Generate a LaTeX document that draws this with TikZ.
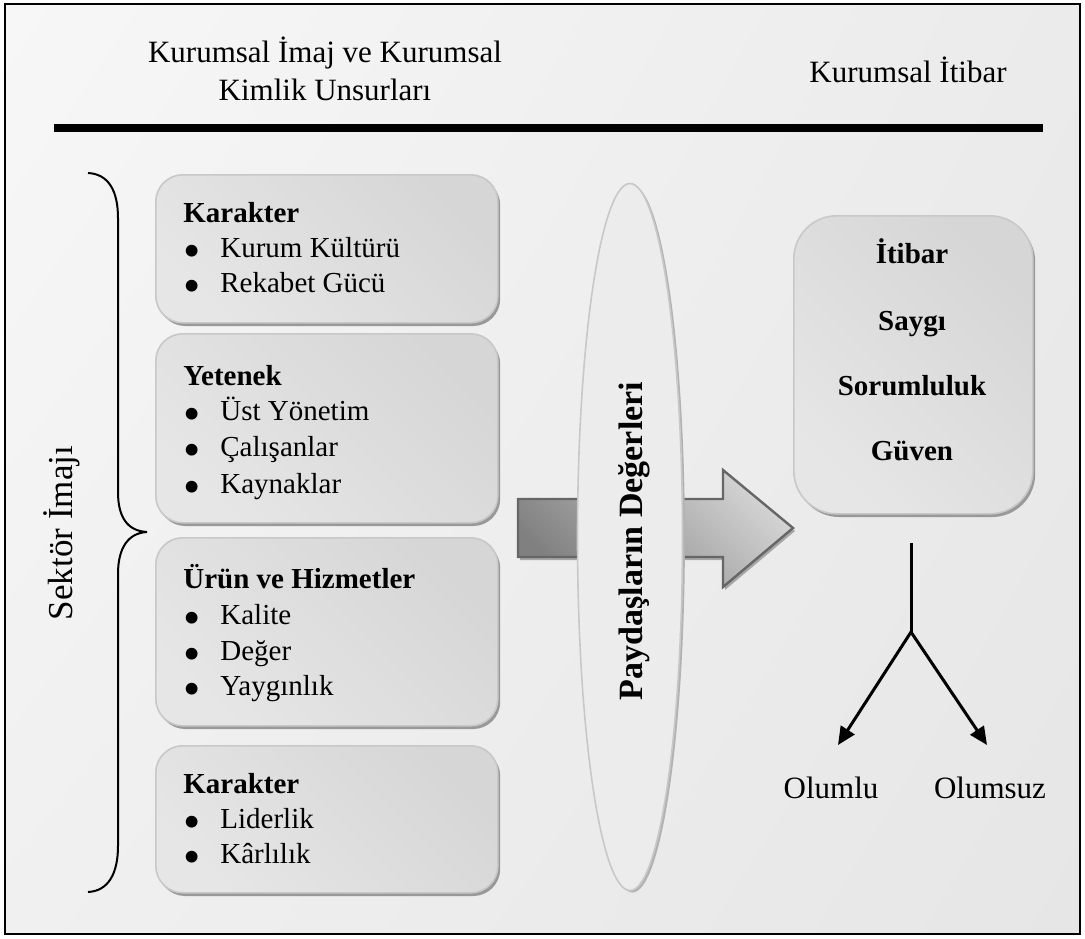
\documentclass[tikz,border=0pt]{standalone}
\usepackage{fontspec}
\setmainfont{Liberation Serif}
\usetikzlibrary{shapes.geometric,shadows,shadings,arrows.meta}

\definecolor{bgA}{HTML}{F7F7F7}
\definecolor{bgB}{HTML}{EBEBEB}
\definecolor{bgC}{HTML}{F0F0F0}
\definecolor{bgD}{HTML}{E6E6E6}
\definecolor{cardDark}{HTML}{D6D6D6}
\definecolor{cardMid}{HTML}{FAFAFA}
\definecolor{cardLow}{HTML}{E6E6E6}
\definecolor{cardEdge}{HTML}{C8C8C8}
\definecolor{ovalSide}{HTML}{ECECEC}
\definecolor{ovalMid}{HTML}{FCFCFC}
\definecolor{arrowLight}{HTML}{D4D4D4}
\definecolor{arrowDark}{HTML}{808080}
\definecolor{arrowEdge}{HTML}{666666}

\tikzset{
  card/.style={rounded corners=13.5pt, draw=cardEdge, line width=0.8pt,
    top color=cardDark, middle color=cardMid, bottom color=cardLow,
    shading angle=-45, inner sep=0pt,
    drop shadow={shadow xshift=1.2pt, shadow yshift=-1.6pt, fill=black!40, opacity=1}},
  head/.style={anchor=base west, inner sep=0pt, font=\bfseries\fontsize{14.5pt}{17pt}\selectfont},
  item/.style={anchor=base west, inner sep=0pt, font=\fontsize{14.5pt}{17pt}\selectfont},
  value/.style={anchor=base, inner sep=0pt, font=\bfseries\fontsize{14.5pt}{17pt}\selectfont},
  title/.style={anchor=base, inner sep=0pt, font=\fontsize{15.5pt}{18pt}\selectfont},
  outcome/.style={anchor=base, inner sep=0pt, font=\fontsize{15.5pt}{18pt}\selectfont},
  branch/.style={line width=1.5pt, -{Triangle[length=9pt,width=8pt]}},
}
% list entry: enlarged bullet set on the x-height, then the entry text
\newcommand{\bul}[1]{\makebox[18.5pt][l]{\smash{\raisebox{-5.2pt}{\scalebox{1.7}{•}}}}#1}

\begin{document}
\begin{tikzpicture}[x=0.5pt, y=-0.5pt]
\useasboundingbox (0,0) rectangle (1085,938);

% page background and frame
\shade[upper left=bgA, upper right=bgB, lower left=bgC, lower right=bgD]
  (5,4) rectangle (1080,934);
\draw[line width=1.1pt] (5,4) rectangle (1080,934);

% headings
\node[title] (tl1) at (325,62) {Kurumsal İmaj ve Kurumsal};
\node[title] (tl2) at (325,100) {Kimlik Unsurları};
\node[title] (tr) at (908,82) {Kurumsal İtibar};
\coordinate (ruleL) at (54,128);
\coordinate (ruleR) at (1043,128);
\draw[line width=4pt] (ruleL) -- (ruleR);

% brace and side label
\draw[line width=1pt]
  (88,173) .. controls (108,174) and (118,190) .. (118,218) -- (118,492)
  .. controls (118,518) and (128,531) .. (147,532)
  .. controls (128,533) and (118,548) .. (118,574) -- (118,846)
  .. controls (118,874) and (108,891) .. (88,892);
\node[rotate=90, anchor=base, inner sep=0pt, font=\fontsize{17.5pt}{20pt}\selectfont]
  (sector) at (72,533) {Sektör İmajı};

% element boxes
\node[card, anchor=north west, minimum width=171pt, minimum height=74pt] (b1) at (155,174) {};
\node[card, anchor=north west, minimum width=171pt, minimum height=94.5pt] (b2) at (155,333) {};
\node[card, anchor=north west, minimum width=171pt, minimum height=94pt] (b3) at (155,537) {};
\node[card, anchor=north west, minimum width=171pt, minimum height=73.5pt] (b4) at (155,745) {};

\node[head] (h1) at (183,222) {Karakter};
\node[item] (i11) at (183,257) {\bul{Kurum Kültürü}};
\node[item] (i12) at (183,292) {\bul{Rekabet Gücü}};

\node[head] (h2) at (183,385) {Yetenek};
\node[item] (i21) at (183,420) {\bul{Üst Yönetim}};
\node[item] (i22) at (183,456) {\bul{Çalışanlar}};
\node[item] (i23) at (183,493) {\bul{Kaynaklar}};

\node[head] (h3) at (183,588) {Ürün ve Hizmetler};
\node[item] (i31) at (183,624) {\bul{Kalite}};
\node[item] (i32) at (183,660) {\bul{Değer}};
\node[item] (i33) at (183,695) {\bul{Yaygınlık}};

\node[head] (h4) at (183,793) {Karakter};
\node[item] (i41) at (183,828) {\bul{Liderlik}};
\node[item] (i42) at (183,863) {\bul{Kârlılık}};

% block arrow
\shade[top color=arrowLight, bottom color=arrowDark, shading angle=-45,
  draw=arrowEdge, line width=1.2pt, drop shadow={shadow xshift=1pt, shadow yshift=-1.5pt, fill=black!35, opacity=1}]
  (518,499) -- (723,499) -- (723,470) -- (793,528) -- (723,587) -- (723,557) -- (518,557) -- cycle;

% stakeholder values ellipse
\node[ellipse, draw=cardEdge, line width=0.8pt, minimum width=52.5pt, minimum height=353.5pt,
  left color=ovalSide, middle color=ovalMid, right color=ovalSide, inner sep=0pt,
  drop shadow={shadow xshift=1.2pt, shadow yshift=-1pt, fill=black!30, opacity=1}]
  (val) at (630,537) {};
\node[rotate=90, anchor=base, inner sep=0pt, font=\bfseries\fontsize{17pt}{20pt}\selectfont]
  (valtxt) at (642,541) {Paydaşların Değerleri};

% reputation box
\node[card, rounded corners=21.5pt, anchor=north west, minimum width=119.5pt, minimum height=149pt]
  (rep) at (793,215) {};
\node[value] (v1) at (912,263) {İtibar};
\node[value] (v2) at (912,330) {Saygı};
\node[value] (v3) at (912,395) {Sorumluluk};
\node[value] (v4) at (912,460) {Güven};

% outcome branches
\coordinate (stem) at (911,543);
\coordinate (fork) at (911,632);
\coordinate (posTip) at (838,745);
\coordinate (negTip) at (987,745);
\draw[line width=1.5pt] (stem) -- (fork);
\draw[branch] (fork) -- (posTip);
\draw[branch] (fork) -- (negTip);
\node[outcome] (pos) at (831,798) {Olumlu};
\node[outcome] (neg) at (990,798) {Olumsuz};
\end{tikzpicture}
\end{document}
